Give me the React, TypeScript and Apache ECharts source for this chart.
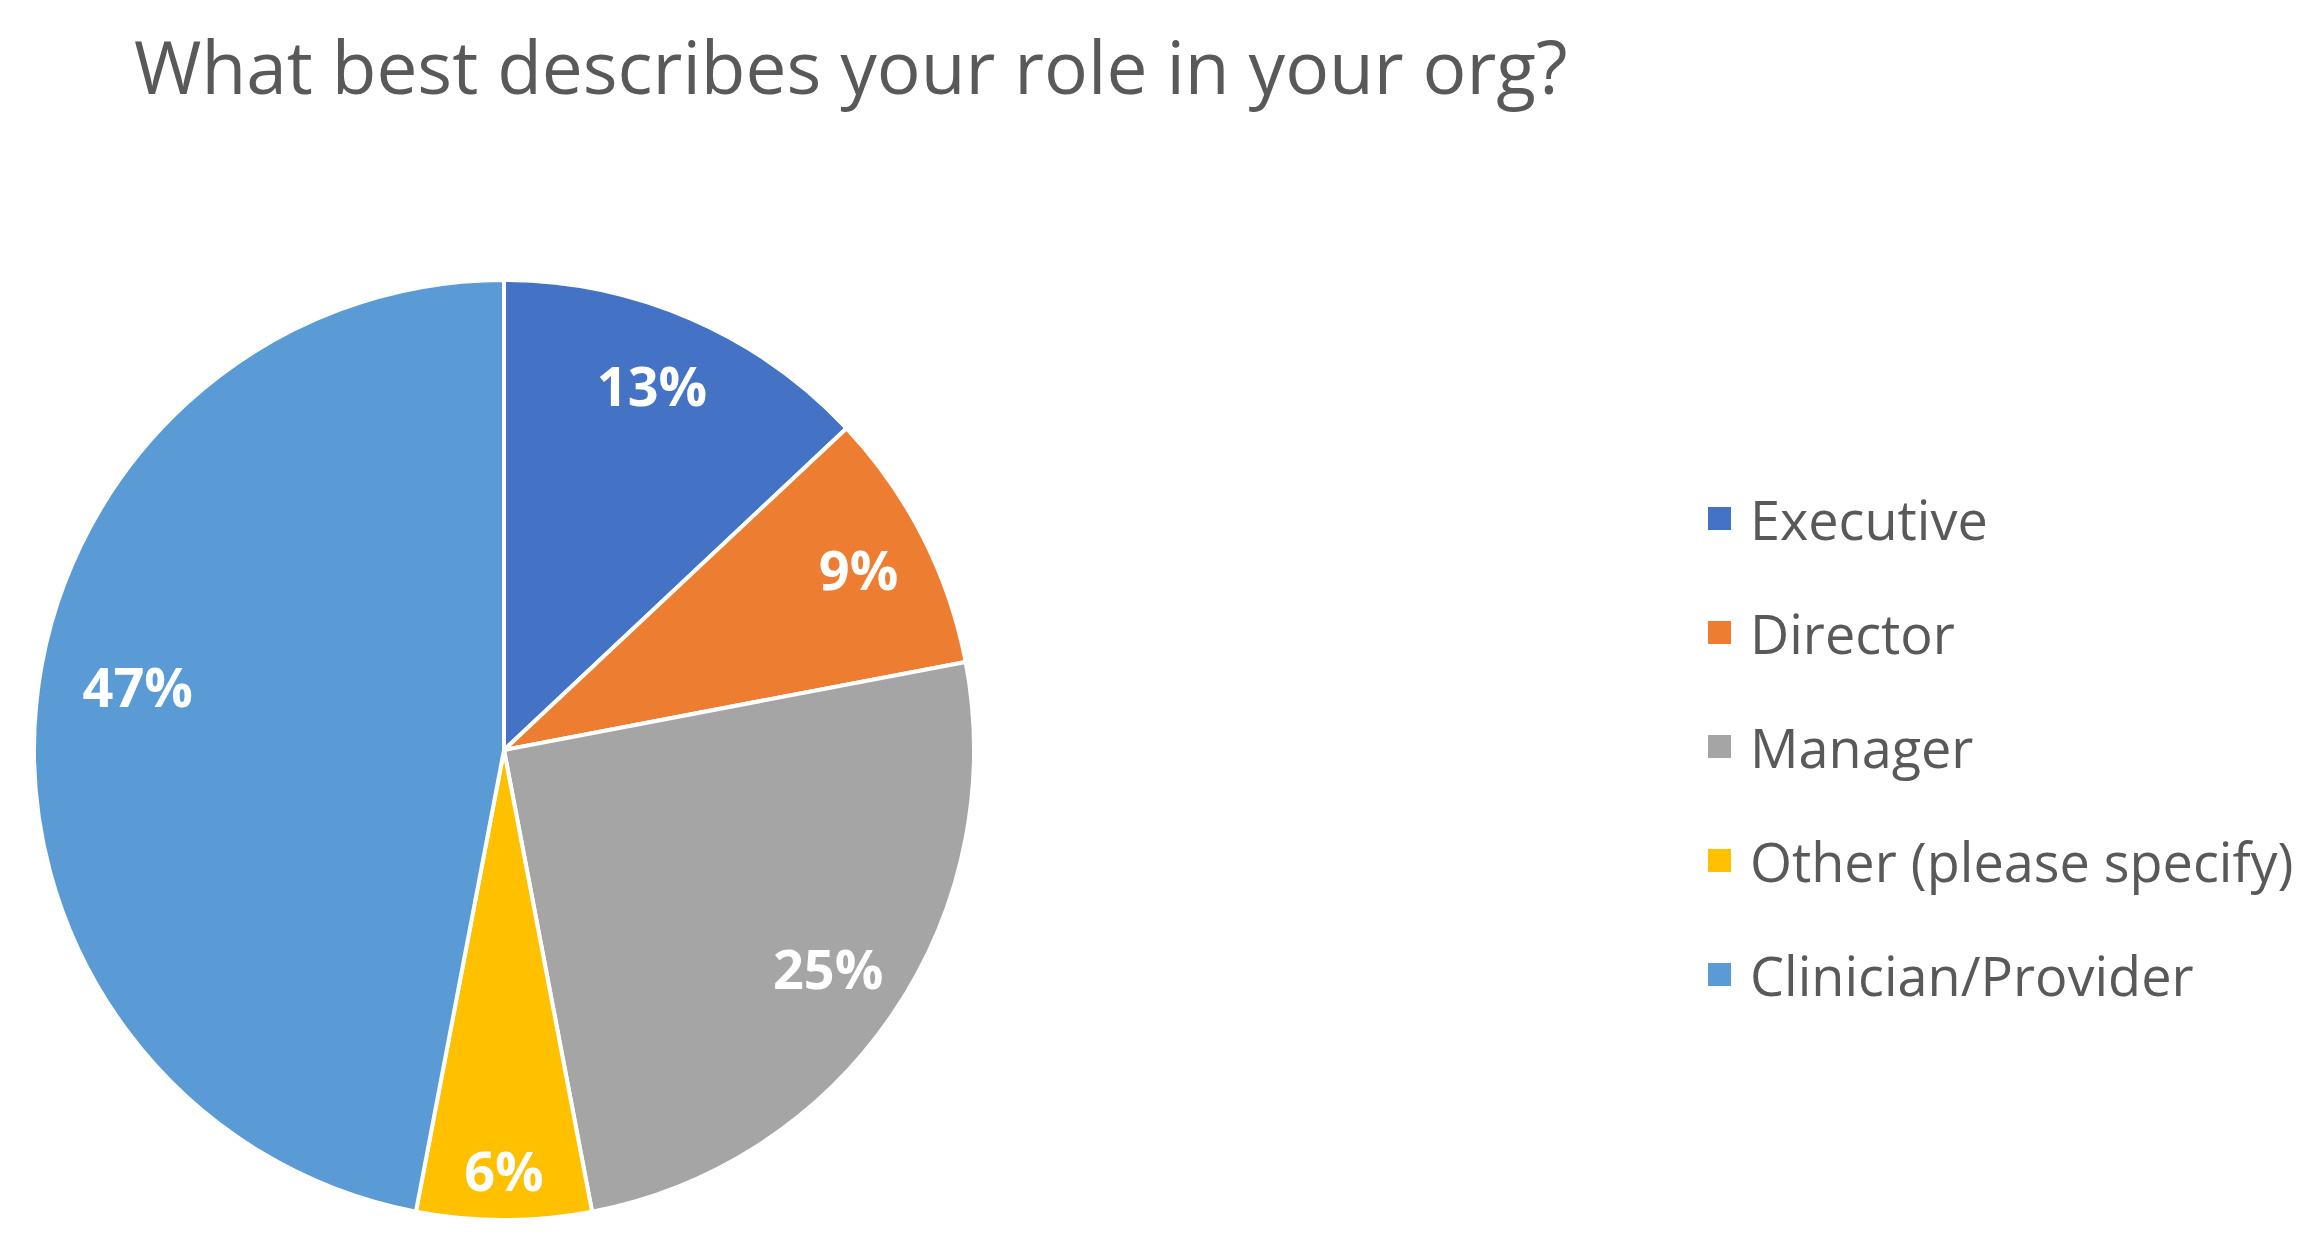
import React, { useEffect, useRef } from "react";
import * as echarts from "echarts";

const categories = ["Executive", "Director", "Manager", "Other (please specify)", "Clinician/Provider"];
const values = [13, 9, 25, 6, 47];
const colors = ["#4472C4", "#ED7D31", "#A5A5A5", "#FFC000", "#5B9BD5"];
const titleText = "What best describes your role in your org?";

export default function App() {
  const ref = useRef<HTMLDivElement>(null);
  useEffect(() => {
    if (!ref.current) return;
    const chart = echarts.init(ref.current, undefined, { renderer: "svg" });
    const data = categories.map((name, i) => ({ name, value: values[i] }));
    chart.setOption({
      animation: false,
      backgroundColor: "#ffffff",
      color: colors,
      title: {
        text: titleText,
        left: 129,
        top: 24,
        textStyle: {
          fontFamily: "Open Sans",
          fontSize: 73,
          fontWeight: "normal",
          color: "#595959",
        },
      },
      legend: {
        orient: "vertical",
        left: 1701,
        top: 486,
        icon: "rect",
        itemWidth: 25,
        itemHeight: 25,
        itemGap: 59,
        data: categories,
        textStyle: {
          fontFamily: "Open Sans",
          fontSize: 54,
          lineHeight: 55,
          color: "#595959",
          padding: [0, 0, 0, 13],
        },
      },
      series: [
        {
          type: "pie",
          center: [504, 750],
          radius: [0, 470],
          startAngle: 90,
          clockwise: true,
          silent: true,
          label: { show: false },
          labelLine: { show: false },
          itemStyle: { borderColor: "#ffffff", borderWidth: 4 },
          data,
        },
        {
          type: "pie",
          center: [504, 750],
          radius: [320, 470],
          startAngle: 90,
          clockwise: true,
          silent: true,
          itemStyle: { color: "transparent", borderWidth: 0 },
          labelLine: { show: false },
          label: {
            show: true,
            position: "inside",
            formatter: "{c}%",
            fontFamily: "Open Sans",
            fontWeight: "bold",
            fontSize: 54,
            color: "#ffffff",
          },
          labelLayout: (p: any) => {
            if (p.dataIndex === 0) return { dx: -10, dy: 0 };
            if (p.dataIndex === 2) return { dx: -5, dy: -6 };
            if (p.dataIndex === 3) return { dx: 0, dy: 22 };
            if (p.dataIndex === 4) return { dx: 30, dy: -27 };
            return {};
          },
          data,
        },
      ],
    });
    return () => chart.dispose();
  }, []);
  return (
    <div
      ref={ref}
      style={{ position: "fixed", left: 0, top: 0, width: 2312, height: 1259 }}
    />
  );
}
